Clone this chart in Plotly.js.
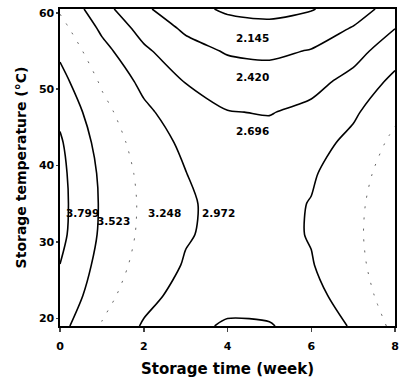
<!DOCTYPE html>
<html>
<head>
<meta charset="utf-8">
<script src="https://cdn.plot.ly/plotly-3.0.1.min.js"></script>
<style>html,body{margin:0;padding:0;background:#fff;}#chart{width:403px;height:381px;}</style>
</head>
<body>
<div id="chart"></div>
<script>
// Storage time (week) grid columns
const storageTime = [0, 1, 2, 3, 4, 5, 6, 7, 8];
// Storage temperature (°C) grid rows
const storageTemp = [19, 23, 27, 31, 35, 39, 43, 47, 51, 55, 58, 60.5];
// Response values estimated from the contour picture (rows = temperature, cols = time)
const response = [
  [3.614, 3.229, 2.943, 2.757, 2.669, 2.681, 2.792, 3.002, 3.312],
  [3.734, 3.348, 3.060, 2.871, 2.780, 2.787, 2.892, 3.096, 3.397],
  [3.797, 3.431, 3.142, 2.950, 2.855, 2.858, 2.957, 3.154, 3.447],
  [3.865, 3.479, 3.188, 2.994, 2.896, 2.894, 2.987, 3.177, 3.463],
  [3.877, 3.490, 3.199, 3.002, 2.900, 2.894, 2.982, 3.166, 3.444],
  [3.865, 3.474, 3.177, 2.976, 2.870, 2.859, 2.943, 3.122, 3.396],
  [3.830, 3.421, 3.121, 2.915, 2.805, 2.789, 2.868, 3.043, 3.312],
  [3.745, 3.334, 3.029, 2.819, 2.704, 2.684, 2.758, 2.928, 3.193],
  [3.616, 3.212, 2.902, 2.687, 2.568, 2.543, 2.614, 2.779, 3.039],
  [3.470, 3.058, 2.742, 2.521, 2.397, 2.367, 2.434, 2.596, 2.853],
  [3.338, 2.921, 2.599, 2.374, 2.245, 2.212, 2.276, 2.435, 2.691],
  [3.215, 2.792, 2.466, 2.236, 2.104, 2.068, 2.129, 2.286, 2.541]
];
// Contour levels
const levels = [2.145, 2.420, 2.696, 2.972, 3.248, 3.523, 3.799];
// Which levels are drawn faint (dotted)
const faintLevels = [3.248];
// Label anchor positions (data units)
const labelTime = [4.59, 4.59, 4.59, 3.78, 2.49, 1.27, 0.53];
const labelTemp = [56.7, 51.6, 44.5, 33.8, 33.8, 32.7, 33.8];
// Axis ticks
const timeTicks = [0, 2, 4, 6, 8];
const tempTicks = [20, 30, 40, 50, 60];

const traces = levels.map(function (lv) {
  const faint = faintLevels.indexOf(lv) >= 0;
  return {
    type: 'contour',
    x: storageTime,
    y: storageTemp,
    z: response,
    showscale: false,
    hoverinfo: 'skip',
    contours: {coloring: 'none', start: lv, end: lv, size: 1, showlabels: false},
    line: faint ? {color: '#666', width: 1, dash: '2px,9px', smoothing: 0.8}
                : {color: '#000', width: 1.6, smoothing: 0.8}
  };
});

const boldFont = {family: 'DejaVu Sans', weight: 'bold', color: '#000'};

const annotations = levels.map(function (lv, i) {
  return {
    x: labelTime[i], y: labelTemp[i], xref: 'x', yref: 'y',
    text: lv.toFixed(3), showarrow: false,
    font: Object.assign({}, boldFont, {size: 10.5})
  };
});

const layout = {
  width: 403, height: 381,
  margin: {l: 60, r: 8, t: 9, b: 55},
  paper_bgcolor: '#fff', plot_bgcolor: '#fff',
  showlegend: false,
  xaxis: {
    range: [0, 8], tickvals: timeTicks, ticks: 'outside', ticklen: 4, tickwidth: 1.5,
    ticklabelstandoff: 5,
    showline: true, mirror: true, linecolor: '#000', linewidth: 1.6,
    showgrid: false, zeroline: false,
    tickfont: Object.assign({}, boldFont, {size: 11}),
    title: {text: 'Storage time (week)', font: Object.assign({}, boldFont, {size: 15}), standoff: 12}
  },
  yaxis: {
    range: [19, 60.5], tickvals: tempTicks, ticks: 'outside', ticklen: 2, tickwidth: 1.5,
    showline: true, mirror: true, linecolor: '#000', linewidth: 1.6,
    showgrid: false, zeroline: false,
    tickfont: Object.assign({}, boldFont, {size: 11}),
    title: {text: 'Storage temperature (°C)', font: Object.assign({}, boldFont, {size: 14}), standoff: 9}
  },
  annotations: annotations
};

Plotly.newPlot('chart', traces, layout, {staticPlot: true, displayModeBar: false});
</script>
</body>
</html>
